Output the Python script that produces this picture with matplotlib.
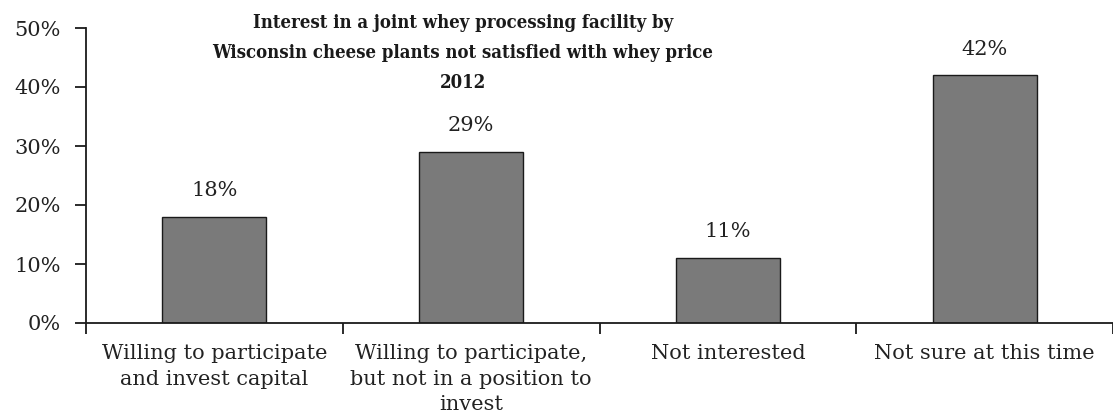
import matplotlib
matplotlib.use("Agg")
import matplotlib.pyplot as plt
import numpy as np

categories = ["Willing to participate\nand invest capital",
              "Willing to participate,\nbut not in a position to\ninvest",
              "Not interested",
              "Not sure at this time"]
values = [18, 29, 11, 42]
value_labels = ["18%", "29%", "11%", "42%"]
yticks = [0, 10, 20, 30, 40, 50]
ytick_labels = ["0%", "10%", "20%", "30%", "40%", "50%"]
title = ("Interest in a joint whey processing facility by\n"
         "Wisconsin cheese plants not satisfied with whey price\n2012")

plt.rcParams['font.family'] = ['DejaVu Serif']

fig = plt.figure(figsize=(11.13, 4.16), dpi=100)
ax = fig.add_axes([86/1113, 1 - 323/416, 1 - 86/1113, (323 - 28)/416])

x = np.arange(len(categories))
bars = ax.bar(x, values, width=0.405, color='#7a7a7a', edgecolor='#1a1a1a', linewidth=1.0)

for xi, v, lab in zip(x, values, value_labels):
    ax.annotate(lab, (xi, v), xytext=(0, 12), textcoords='offset points',
                ha='center', va='bottom', fontsize=15, color='#222222')

ax.set_xlim(-0.5, len(categories) - 0.5)
ax.set_ylim(0, 50)
ax.set_yticks(yticks)
ax.set_yticklabels(ytick_labels, fontsize=15, color='#222222')

# category labels centered, ticks at boundaries
ax.set_xticks(np.arange(len(categories) + 1) - 0.5)
ax.set_xticklabels([])
ax.set_xticks(x, minor=True)
ax.set_xticklabels(categories, minor=True, fontsize=15, color='#222222', linespacing=1.45)
ax.tick_params(axis='x', which='minor', length=0, pad=15)
ax.tick_params(axis='x', which='major', length=8, width=1.3, direction='out', color='#1a1a1a')
ax.tick_params(axis='y', length=8, width=1.3, direction='out', color='#1a1a1a', pad=10)

for s in ['top', 'right']:
    ax.spines[s].set_visible(False)
for s in ['left', 'bottom']:
    ax.spines[s].set_linewidth(1.3)
    ax.spines[s].set_color('#1a1a1a')

fig.text(463/1113, 1 - 14/416, title, ha='center', va='top', fontsize=13.3,
         fontweight='bold', fontstretch='condensed', color='#1a1a1a', linespacing=1.85)

fig.savefig("out.png", dpi=100)
